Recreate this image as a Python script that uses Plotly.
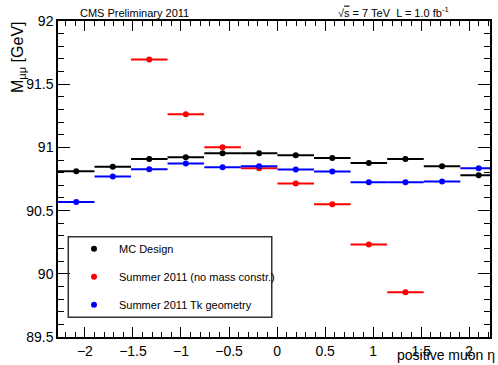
import plotly.graph_objects as go

eta_centers = [-2.09, -1.71, -1.33, -0.95, -0.567, -0.187, 0.194, 0.575, 0.955, 1.336, 1.717, 2.098]
bin_half = 0.19

mc_design = [90.812, 90.846, 90.909, 90.922, 90.954, 90.954, 90.938, 90.917, 90.877, 90.909, 90.851, 90.780]
tk_geometry = [90.569, 90.770, 90.828, 90.873, 90.843, 90.851, 90.825, 90.809, 90.725, 90.725, 90.730, 90.836]
red_eta = [-1.33, -0.95, -0.567, -0.187, 0.194, 0.575, 0.955, 1.336]
no_mass = [91.695, 91.262, 91.002, 90.836, 90.714, 90.551, 90.232, 89.855]

series = [
    ("MC Design", eta_centers, mc_design, "#000000"),
    ("Summer 2011 (no mass constr.)", red_eta, no_mass, "#ff0000"),
    ("Summer 2011 Tk geometry", eta_centers, tk_geometry, "#0000ff"),
]

FONT = "Liberation Sans, Arial, Helvetica, sans-serif"

fig = go.Figure()
for i, (name, xs, ys, col) in enumerate(series):
    fig.add_trace(go.Scatter(
        x=xs, y=ys, mode="markers", name=name,
        legendgroup=f"g{i}",
        marker=dict(color=col, size=6),
        error_x=dict(type="constant", value=bin_half, color=col, thickness=2, width=0),
        cliponaxis=False,
    ))

W, H = 498, 365
L, R, T, B = 58, 7.5, 20.5, 28
pw, ph = W - L - R, H - T - B

def px_x(x):
    return (x - L) / pw

def px_y(y):
    return (H - B - y) / ph

axis_common = dict(
    showline=True, linecolor="black", linewidth=1.5, mirror="allticks",
    ticks="inside", tickcolor="black", tickwidth=1,
    showgrid=False, zeroline=False,
    tickfont=dict(family=FONT, size=14, color="black"),
)

fig.update_layout(
    width=W, height=H,
    margin=dict(l=L, r=R, t=T, b=B),
    paper_bgcolor="white", plot_bgcolor="white",
    xaxis=dict(range=[-2.28, 2.216], dtick=0.5, tick0=0, ticklen=10,
               minor=dict(dtick=0.1, ticks="inside", ticklen=5, tickcolor="black", showgrid=False),
               **axis_common),
    yaxis=dict(range=[89.5, 92], dtick=0.5, tick0=89.5, ticklen=12,
               minor=dict(dtick=0.1, ticks="inside", ticklen=6, tickcolor="black", showgrid=False),
               **axis_common),
    showlegend=True,
    legend=dict(x=px_x(69), y=px_y(234), xanchor="left", yanchor="top",
                bgcolor="rgba(0,0,0,0)", borderwidth=0,
                font=dict(family=FONT, size=11, color="black"),
                itemwidth=40, tracegroupgap=9),
    font=dict(family=FONT),
)

fig.add_shape(type="rect", xref="paper", yref="paper",
              x0=px_x(68.3), x1=px_x(272), y0=px_y(317.3), y1=px_y(236.7),
              line=dict(color="#333333", width=1.5), fillcolor="rgba(0,0,0,0)", layer="above")

fig.add_annotation(text="CMS Preliminary 2011", xref="paper", yref="paper",
                   x=px_x(78), y=px_y(4), xanchor="left", yanchor="top", showarrow=False,
                   font=dict(family=FONT, size=11, color="black"))
fig.add_annotation(text="√<span style='text-decoration:overline'>s</span> = 7 TeV  L = 1.0 fb<sup>-1</sup>",
                   xref="paper", yref="paper",
                   x=px_x(336), y=px_y(2), xanchor="left", yanchor="top", showarrow=False,
                   font=dict(family=FONT, size=11, color="black"))
fig.add_annotation(text="M<sub>μμ</sub> [GeV]", xref="paper", yref="paper",
                   x=px_x(7), y=px_y(19), xanchor="left", yanchor="top", textangle=-90,
                   showarrow=False, font=dict(family=FONT, size=16, color="black"))
fig.add_annotation(text="positive muon η", xref="paper", yref="paper",
                   x=px_x(498), y=px_y(365), xanchor="right", yanchor="bottom",
                   showarrow=False, font=dict(family=FONT, size=14, color="black"))

fig.write_html("out.html")
